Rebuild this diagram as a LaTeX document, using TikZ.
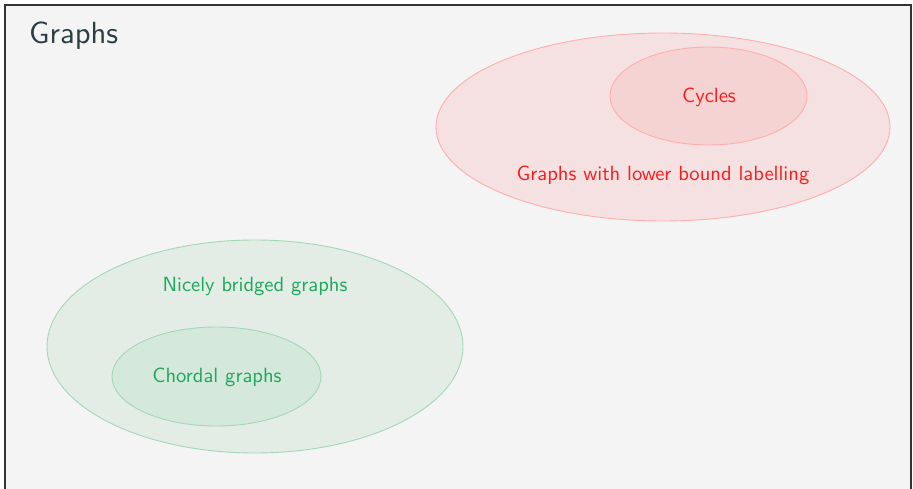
\documentclass[tikz,border=0pt]{standalone}
\usetikzlibrary{shapes.geometric}
\definecolor{pagebg}{HTML}{F4F4F4}
\definecolor{framecol}{HTML}{333333}
\definecolor{titlecol}{HTML}{2A3E44}
\definecolor{redtext}{HTML}{FF1A1A}
\definecolor{redfill}{HTML}{F5E1E1}
\definecolor{redfillin}{HTML}{F6D3D3}
\definecolor{redline}{HTML}{FFADAD}
\definecolor{greentext}{HTML}{1DA85C}
\definecolor{greenfill}{HTML}{E3EDE6}
\definecolor{greenfillin}{HTML}{D5E8DC}
\definecolor{greenline}{HTML}{A2D8B4}
\newcommand{\setname}[1]{\scalebox{2.056}{\sffamily\fontsize{10}{12}\selectfont #1}}
\tikzset{
  region/.style={ellipse, inner sep=0pt, line width=0.9pt},
  redset/.style={region, draw=redline, fill=redfill},
  redsetin/.style={region, draw=redline, fill=redfillin},
  greenset/.style={region, draw=greenline, fill=greenfill},
  greensetin/.style={region, draw=greenline, fill=greenfillin},
  setlabel/.style={inner sep=0pt},
}
\begin{document}
\begin{tikzpicture}[x=1pt,y=-1pt]
  \useasboundingbox (0,0) rectangle (913,489);
  % slide area with its frame
  \fill[white] (0,0) rectangle (913,489);
  \fill[pagebg] (5,5) rectangle (911,495);
  \draw[framecol, line width=1.4pt] (5,495) -- (5,5) -- (911,5) -- (911,495);

  \node[anchor=base west, text=titlecol, inner sep=0pt] (title) at (29,44)
    {\scalebox{3.06}{\sffamily\fontsize{10}{12}\selectfont Graphs}};

  % lower bound labelling family
  \node[redset, minimum width=454pt, minimum height=188pt] (lbl) at (663,127) {};
  \node[redsetin, minimum width=197pt, minimum height=98pt] (cyc) at (708.5,96) {};
  \node[setlabel, text=redtext] (cyclabel) at (709,97) {\setname{Cycles}};
  \node[setlabel, text=redtext] (lbllabel) at (663,175.5) {\setname{Graphs with lower bound labelling}};

  % bridged graph family
  \node[greenset, minimum width=416pt, minimum height=213pt] (nbg) at (255,346.5) {};
  \node[greensetin, minimum width=209pt, minimum height=99pt] (chd) at (216.5,376.5) {};
  \node[setlabel, text=greentext] (nbglabel) at (255,286.5) {\setname{Nicely bridged graphs}};
  \node[setlabel, text=greentext] (chdlabel) at (217,377.5) {\setname{Chordal graphs}};
\end{tikzpicture}
\end{document}
